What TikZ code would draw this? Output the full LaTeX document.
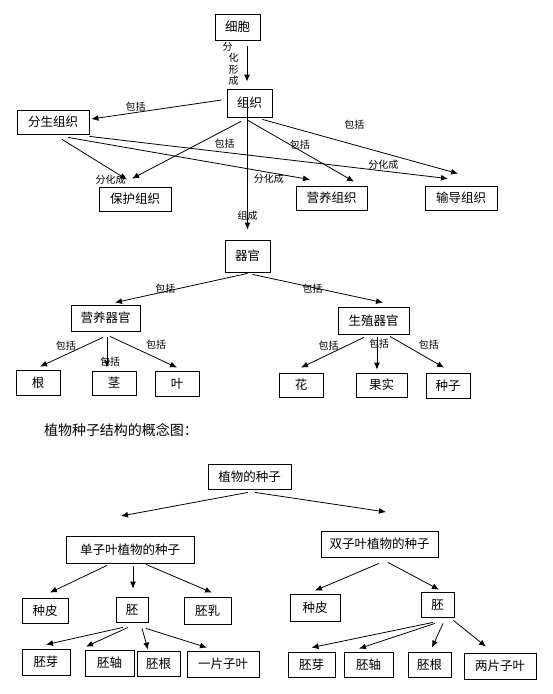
\documentclass[tikz,border=0pt]{standalone}
\usepackage{fontspec}
\setmainfont{Noto Sans CJK SC}
\usetikzlibrary{arrows.meta}
\tikzset{block/.style=
   {rectangle,
    draw,
    text centered,
    inner sep=0pt,
    line width=0.8pt,
    font=\fontsize{12.5}{14}\selectfont}}
\tikzset{arrow/.style = {draw, line width=0.8pt, -{Latex[length=7pt,width=6pt]}}}
\tikzset{tag/.style = {font=\fontsize{10}{11.5}\selectfont, inner sep=1pt}}

\begin{document}
\begin{tikzpicture}[x=1pt, y=-1pt]

    \useasboundingbox (0,0) rectangle (552,694);

    % Place nodes
    \node [block, minimum width=45pt, minimum height=26pt] (cell) at (237.5,27) {细胞};
    \node [block, minimum width=45pt, minimum height=28pt] (tissue) at (249.5,103) {组织};
    \node [block, minimum width=72pt, minimum height=24pt] (meristem) at (53,122) {分生组织};
    \node [block, minimum width=72pt, minimum height=24pt] (protective) at (135,199) {保护组织};
    \node [block, minimum width=71pt, minimum height=24pt] (nutritive) at (331.5,198) {营养组织};
    \node [block, minimum width=72pt, minimum height=24pt] (conductive) at (461,198) {输导组织};
    \node [block, minimum width=45pt, minimum height=32pt] (organ) at (247.5,256) {器官};
    \node [block, minimum width=69pt, minimum height=26pt] (vegOrgan) at (105.5,318) {营养器官};
    \node [block, minimum width=71pt, minimum height=27pt] (repOrgan) at (373.5,320.5) {生殖器官};
    \node [block, minimum width=44pt, minimum height=25pt] (root) at (38,382.5) {根};
    \node [block, minimum width=44pt, minimum height=24pt] (stem) at (114,383) {茎};
    \node [block, minimum width=44pt, minimum height=25pt] (leaf) at (177,383.5) {叶};
    \node [block, minimum width=44pt, minimum height=24pt] (flower) at (301,385) {花};
    \node [block, minimum width=51pt, minimum height=24pt] (fruit) at (381.5,385) {果实};
    \node [block, minimum width=44pt, minimum height=25pt] (seed) at (448,385.5) {种子};

    \node [font=\fontsize{14}{16}\selectfont, inner sep=0pt] (title) at (121,430) {植物种子结构的概念图：};

    \node [block, minimum width=83pt, minimum height=25pt] (plantSeed) at (249.5,476.5) {植物的种子};
    \node [block, minimum width=128pt, minimum height=27pt] (monoSeed) at (130,549.5) {单子叶植物的种子};
    \node [block, minimum width=117pt, minimum height=26pt] (diSeed) at (379.5,544) {双子叶植物的种子};
    \node [block, minimum width=46pt, minimum height=25pt] (monoCoat) at (45,610.5) {种皮};
    \node [block, minimum width=32pt, minimum height=25pt] (monoEmbryo) at (132,609.5) {胚};
    \node [block, minimum width=47pt, minimum height=27pt] (endosperm) at (207.5,610.5) {胚乳};
    \node [block, minimum width=48pt, minimum height=26pt] (monoPlumule) at (46,662) {胚芽};
    \node [block, minimum width=49pt, minimum height=26pt] (monoHypocotyl) at (109.5,663) {胚轴};
    \node [block, minimum width=43pt, minimum height=25pt] (monoRadicle) at (158.5,663.5) {胚根};
    \node [block, minimum width=72pt, minimum height=26pt] (monoCotyl) at (223,664) {一片子叶};
    \node [block, minimum width=50pt, minimum height=27pt] (diCoat) at (315,607.5) {种皮};
    \node [block, minimum width=33pt, minimum height=25pt] (diEmbryo) at (437.5,604.5) {胚};
    \node [block, minimum width=47pt, minimum height=25pt] (diPlumule) at (311.5,664.5) {胚芽};
    \node [block, minimum width=49pt, minimum height=25pt] (diHypocotyl) at (368.5,664.5) {胚轴};
    \node [block, minimum width=43pt, minimum height=25pt] (diRadicle) at (429.5,664.5) {胚根};
    \node [block, minimum width=72pt, minimum height=26pt] (diCotyl) at (500,666) {两片子叶};

    \coordinate (monoTip) at (121,516);
    \coordinate (diTip) at (386,512);

    % Draw edges
    \path [arrow]
    ([xshift=9.5pt,yshift=-6pt] cell.south)
    -- node [tag, left=1pt, align=center] (formLbl) {分\hspace*{12pt}\\化\\形\\成}
    ([xshift=-2.5pt,yshift=7pt] tissue.north);

    \path [arrow]
    ([xshift=-5pt,yshift=3pt] tissue.west)
    -- node [tag, pos=0.66, above] (incMeristem) {包括}
    ([xshift=2pt,yshift=3pt] meristem.east);

    \path [arrow]
    ([xshift=-8.5pt,yshift=-4pt] tissue.south)
    -- node [tag, pos=0.15, below=8pt] (incProtective) {包括}
    ([xshift=-3pt,yshift=8pt] protective.north);

    \path [arrow]
    ([xshift=9pt,yshift=-5pt] meristem.south)
    -- node [tag, at end, left] (diffProtective) {分化成}
    ([xshift=-8pt,yshift=7pt] protective.north);

    \path [arrow]
    ([xshift=15pt,yshift=-3pt] meristem.south)
    -- node [tag, pos=0.83, below] (diffNutritive) {分化成}
    ([xshift=-21.5pt,yshift=6pt] nutritive.north);

    \path [arrow]
    ([yshift=-2pt] meristem.south east)
    -- node [tag, pos=0.82, above] (diffConductive) {分化成}
    ([xshift=-13pt,yshift=7pt] conductive.north);

    \path [arrow]
    ([xshift=-1.5pt,yshift=-3pt] tissue.south)
    -- node [tag, pos=0.49, above] (incNutritive) {包括}
    ([xshift=22.5pt,yshift=4pt] nutritive.north);

    \path [arrow]
    ([xshift=-10pt,yshift=-2pt] tissue.south east)
    -- node [tag, pos=0.47, above=14pt] (incConductive) {包括}
    ([xshift=-3pt,yshift=12pt] conductive.north);

    \path [arrow]
    ([xshift=-2pt,yshift=3pt] tissue.center)
    -- node [tag, pos=0.89] (composeLbl) {组成}
    ([yshift=10pt] organ.north);

    \path [arrow]
    ([yshift=-1pt] organ.south)
    -- node [tag, pos=0.62, yshift=2.5pt] (incVeg) {包括}
    ([xshift=9.5pt,yshift=2pt] vegOrgan.north);

    \path [arrow]
    ([xshift=5pt,yshift=-2pt] organ.south)
    -- node [tag, pos=0.46, yshift=-1.5pt] (incRep) {包括}
    ([xshift=9.5pt,yshift=4pt] repOrgan.north);

    \path [arrow]
    ([xshift=-2.5pt,yshift=-6pt] vegOrgan.south)
    -- node [tag, pos=0.59, above=3pt] (incRoot) {包括}
    ([xshift=2pt,yshift=3pt] root.north);

    \path [arrow]
    ([xshift=1.5pt,yshift=-6pt] vegOrgan.south)
    -- node [tag, pos=0.8, xshift=3pt] (incStem) {包括}
    ([xshift=-7pt,yshift=3pt] stem.north);

    \path [arrow]
    ([xshift=4.5pt,yshift=-5pt] vegOrgan.south)
    -- node [tag, pos=0.69, above=7pt] (incLeaf) {包括}
    ([yshift=3pt] leaf.north);

    \path [arrow]
    ([xshift=-9.5pt,yshift=-3pt] repOrgan.south)
    -- node [tag, pos=0.56, above=3pt] (incFlower) {包括}
    ([yshift=5pt] flower.north);

    \path [arrow]
    ([xshift=3.5pt,yshift=-3pt] repOrgan.south)
    -- node [tag, pos=0.21, xshift=2pt] (incFruit) {包括}
    ([xshift=-4.5pt,yshift=3pt] fruit.north);

    \path [arrow]
    ([xshift=16.5pt,yshift=-2pt] repOrgan.south)
    -- node [tag, pos=0.72, above=8pt] (incSeed) {包括}
    ([xshift=-4pt,yshift=5pt] seed.north);

    \path [arrow] ([xshift=-1.5pt,yshift=-3pt] plantSeed.south) -- (monoTip);
    \path [arrow] ([xshift=5.5pt,yshift=-3pt] plantSeed.south) -- (diTip);

    \path [arrow] ([xshift=-23pt,yshift=-2pt] monoSeed.south) -- ([xshift=5pt,yshift=5pt] monoCoat.north);
    \path [arrow] ([xshift=3pt,yshift=-3pt] monoSeed.south) -- ([xshift=1pt,yshift=8pt] monoEmbryo.north);
    \path [arrow] ([xshift=16pt,yshift=-1pt] monoSeed.south) -- ([xshift=4.5pt,yshift=4pt] endosperm.north);

    \path [arrow] ([xshift=-9pt,yshift=-5pt] monoEmbryo.south) -- ([yshift=4pt] monoPlumule.north);
    \path [arrow] ([xshift=-4pt,yshift=-5pt] monoEmbryo.south) -- ([xshift=-23.5pt,yshift=3pt] monoHypocotyl.north);
    \path [arrow] ([xshift=10pt,yshift=-6pt] monoEmbryo.south) -- ([xshift=-10.5pt,yshift=1pt] monoRadicle.north);
    \path [arrow] ([xshift=14pt,yshift=-6pt] monoEmbryo.south) -- ([xshift=-16pt,yshift=3pt] monoCotyl.north);

    \path [arrow] ([xshift=-0.5pt,yshift=-6pt] diSeed.south) -- ([yshift=3pt] diCoat.north);
    \path [arrow] ([xshift=8.5pt,yshift=-5pt] diSeed.south) -- ([xshift=1.5pt,yshift=2pt] diEmbryo.north);

    \path [arrow] ([xshift=-4.5pt,yshift=-5pt] diEmbryo.south) -- ([yshift=4pt] diPlumule.north);
    \path [arrow] ([xshift=-2.5pt,yshift=-6pt] diEmbryo.south) -- ([xshift=-9.5pt,yshift=3pt] diHypocotyl.north);
    \path [arrow] ([xshift=5.5pt,yshift=-6pt] diEmbryo.south) -- ([xshift=2.5pt,yshift=4pt] diRadicle.north);
    \path [arrow] ([xshift=-1pt,yshift=-3pt] diEmbryo.south east) -- ([xshift=-14pt,yshift=6pt] diCotyl.north);

\end{tikzpicture}
\end{document}
